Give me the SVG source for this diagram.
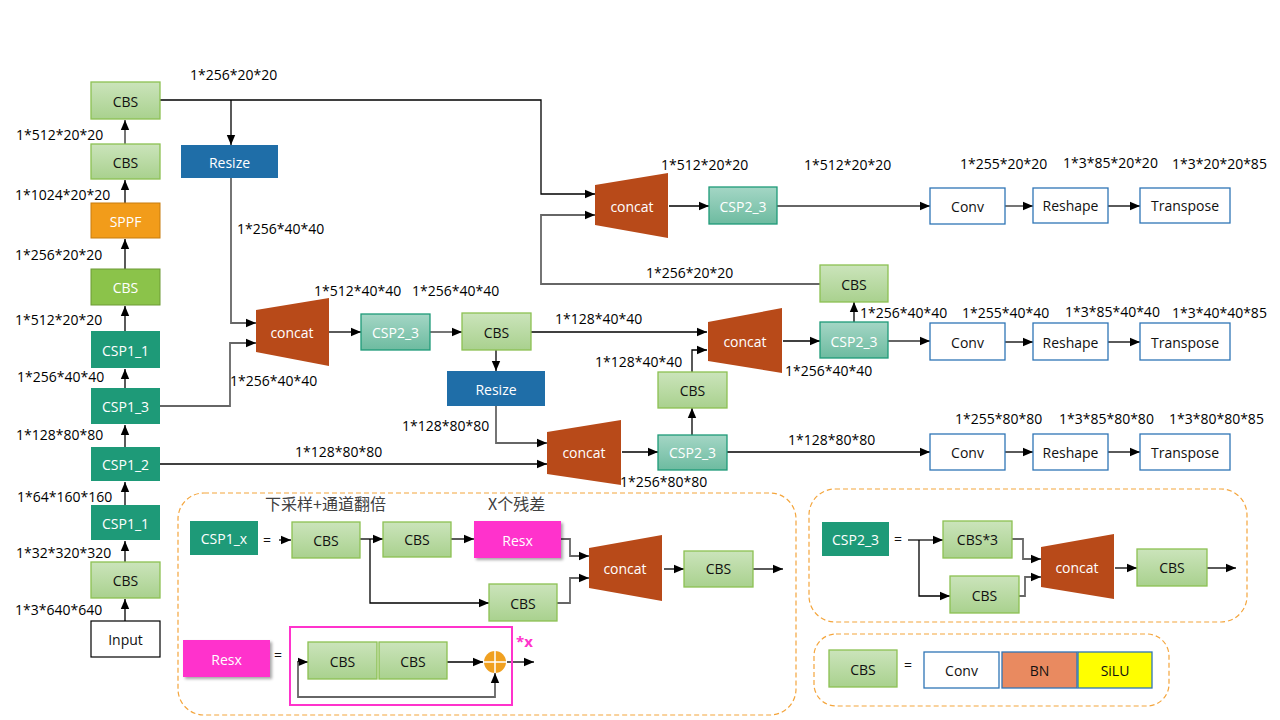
<svg xmlns="http://www.w3.org/2000/svg" width="1280" height="720" viewBox="0 0 1280 720">
<defs>
<linearGradient id="gCbs" x1="0" y1="0" x2="0" y2="1"><stop offset="0" stop-color="#cbe4bb"/><stop offset="1" stop-color="#a9d18e"/></linearGradient>
<linearGradient id="gCsp2" x1="0" y1="0" x2="0" y2="1"><stop offset="0" stop-color="#a4d6c5"/><stop offset="1" stop-color="#6dbba0"/></linearGradient>
<marker id="ah" markerUnits="userSpaceOnUse" markerWidth="10" markerHeight="10" refX="10" refY="5" orient="auto"><path d="M0,0.8 L10,5 L0,9.2 z" fill="#000"/></marker>
<filter id="sh" x="-10%" y="-10%" width="130%" height="140%"><feDropShadow dx="2" dy="2" stdDeviation="1.5" flood-color="#000" flood-opacity="0.35"/></filter>
</defs>
<style>
text{font-family:"Open Sans","Noto Sans",sans-serif;}
.lbl{font-size:14px;fill:#000;}
.t{font-size:14px;text-anchor:middle;dominant-baseline:central;fill:#111;}
.tw{font-size:14px;text-anchor:middle;dominant-baseline:central;fill:#fff;}
.cbs{fill:url(#gCbs);stroke:#8cc152;stroke-width:1.3;}
.cbsg{fill:#8bc34a;stroke:#6c9a35;stroke-width:1;}
.sppf{fill:#f29c1a;stroke:#c77c0e;stroke-width:1;}
.csp1{fill:#1e9a78;}
.csp2{fill:url(#gCsp2);stroke:#1e9a78;stroke-width:1.3;}
.rsz{fill:#1f6ea8;}
.cat{fill:#b84a19;}
.out{fill:#fff;stroke:#2e75b6;stroke-width:1.3;}
.inp{fill:#fff;stroke:#000;stroke-width:1.2;}
.resx{fill:#ff33cc;}
.dash{fill:none;stroke:#f4a53c;stroke-width:1.2;stroke-dasharray:5 3;}
.c{fill:none;stroke:#000;stroke-width:1.3;}
.cg{fill:none;stroke:#666;stroke-width:1.8;}
.a{marker-end:url(#ah);}
.cn{font-family:"Noto Sans CJK SC","Noto Sans",sans-serif;font-size:16px;fill:#404040;}
</style>

<g id="connectors">
<path class="c a" d="M125 621V599"/>
<path class="c a" d="M125 562V541"/>
<path class="c a" d="M125 505V482"/>
<path class="c a" d="M125 447V425"/>
<path class="c a" d="M125 388V369"/>
<path class="c a" d="M125 331V306"/>
<path class="c a" d="M125 269V239"/>
<path class="c a" d="M125 203V180"/>
<path class="cg a" d="M125 144V120"/>
<path class="c a" d="M160 100H541V194H595"/>
<path class="c a" d="M231 100V145"/>
<path class="cg a" d="M231 178V323H256"/>
<path class="cg a" d="M160 406H230V343H256"/>
<path class="c a" d="M329 332H361"/>
<path class="cg a" d="M430 332H462"/>
<path class="c a" d="M531 332H707"/>
<path class="c a" d="M496 350V371"/>
<path class="cg a" d="M496 406V443H547"/>
<path class="c a" d="M160 464H547"/>
<path class="c a" d="M622 452H658"/>
<path class="c a" d="M727 452H930"/>
<path class="c a" d="M692 435V408"/>
<path class="c a" d="M692 372V350H707"/>
<path class="c a" d="M783 341H820"/>
<path class="cg a" d="M888 341H930"/>
<path class="c a" d="M854 322V302"/>
<path class="cg a" d="M820 284H541V215H595"/>
<path class="c a" d="M669 206H709"/>
<path class="cg a" d="M777 206H930"/>
<path class="cg a" d="M1005 206H1033"/>
<path class="c a" d="M1108 206H1140"/>
<path class="c a" d="M1005 342H1033"/>
<path class="c a" d="M1108 342H1140"/>
<path class="c a" d="M1005 452H1033"/>
<path class="c a" d="M1108 452H1140"/>
<path class="c a" d="M279 540H291"/>
<path class="c a" d="M360 539H383"/>
<path class="c a" d="M370 539V603H489"/>
<path class="c a" d="M451 539H474"/>
<path class="cg a" d="M561 539H570V556H589"/>
<path class="cg a" d="M557 603H570V578H589"/>
<path class="c a" d="M664 569H684"/>
<path class="c a" d="M753 569H783"/>
<path class="c a" d="M297 662H308"/>
<path class="c a" d="M447 662H483"/>
<path class="c a" d="M507 662H534"/>
<path class="cg a" d="M298 662V697H495V673"/>
<path class="cg a" d="M908 540H943"/>
<path class="c a" d="M919 540V596H950"/>
<path class="cg a" d="M1012 539H1023V559H1041"/>
<path class="cg a" d="M1019 596H1025V577H1041"/>
<path class="c a" d="M1115 568H1137"/>
<path class="c a" d="M1207 568H1236"/>
</g>

<g id="labels">
<text class="lbl" x="190" y="80">1*256*20*20</text>
<text class="lbl" x="16" y="140">1*512*20*20</text>
<text class="lbl" x="15" y="200">1*1024*20*20</text>
<text class="lbl" x="15" y="260">1*256*20*20</text>
<text class="lbl" x="15" y="325">1*512*20*20</text>
<text class="lbl" x="17" y="382">1*256*40*40</text>
<text class="lbl" x="16" y="440">1*128*80*80</text>
<text class="lbl" x="17" y="502">1*64*160*160</text>
<text class="lbl" x="16" y="558">1*32*320*320</text>
<text class="lbl" x="15" y="615">1*3*640*640</text>
<text class="lbl" x="237" y="234">1*256*40*40</text>
<text class="lbl" x="230" y="386">1*256*40*40</text>
<text class="lbl" x="314" y="296">1*512*40*40</text>
<text class="lbl" x="412" y="296">1*256*40*40</text>
<text class="lbl" x="555" y="324">1*128*40*40</text>
<text class="lbl" x="595" y="367">1*128*40*40</text>
<text class="lbl" x="402" y="431">1*128*80*80</text>
<text class="lbl" x="295" y="457">1*128*80*80</text>
<text class="lbl" x="620" y="487">1*256*80*80</text>
<text class="lbl" x="788" y="445">1*128*80*80</text>
<text class="lbl" x="785" y="376">1*256*40*40</text>
<text class="lbl" x="860" y="318">1*256*40*40</text>
<text class="lbl" x="962" y="318">1*255*40*40</text>
<text class="lbl" x="1065" y="317">1*3*85*40*40</text>
<text class="lbl" x="1172" y="318">1*3*40*40*85</text>
<text class="lbl" x="646" y="278">1*256*20*20</text>
<text class="lbl" x="661" y="170">1*512*20*20</text>
<text class="lbl" x="804" y="170">1*512*20*20</text>
<text class="lbl" x="960" y="169">1*255*20*20</text>
<text class="lbl" x="1063" y="168">1*3*85*20*20</text>
<text class="lbl" x="1172" y="169">1*3*20*20*85</text>
<text class="lbl" x="955" y="424">1*255*80*80</text>
<text class="lbl" x="1059" y="424">1*3*85*80*80</text>
<text class="lbl" x="1169" y="424">1*3*80*80*85</text>
</g>

<g id="cbs_top"><rect class="cbs" x="91" y="82" width="69" height="37"/><text class="t" x="125.5" y="101">CBS</text></g>
<g id="cbs_2"><rect class="cbs" x="91" y="144" width="69" height="35"/><text class="t" x="125.5" y="162">CBS</text></g>
<g id="sppf"><rect class="sppf" x="91" y="203" width="69" height="35"/><text class="tw" x="125.5" y="221">SPPF</text></g>
<g id="cbs_3"><rect class="cbsg" x="91" y="269" width="69" height="36"/><text class="tw" x="125.5" y="287">CBS</text></g>
<g id="csp1_1a"><rect class="csp1" x="91" y="331" width="69" height="37"/><text class="tw" x="125.5" y="350">CSP1_1</text></g>
<g id="csp1_3"><rect class="csp1" x="91" y="388" width="69" height="36"/><text class="tw" x="125.5" y="406">CSP1_3</text></g>
<g id="csp1_2"><rect class="csp1" x="91" y="447" width="69" height="34"/><text class="tw" x="125.5" y="464">CSP1_2</text></g>
<g id="csp1_1b"><rect class="csp1" x="91" y="505" width="69" height="35"/><text class="tw" x="125.5" y="523">CSP1_1</text></g>
<g id="cbs_in"><rect class="cbs" x="91" y="562" width="69" height="36"/><text class="t" x="125.5" y="580">CBS</text></g>
<g id="input"><rect class="inp" x="91" y="621" width="69" height="36"/><text class="t" x="125.5" y="639">Input</text></g>

<g id="resize1"><rect class="rsz" x="181" y="145" width="97" height="33"/><text class="tw" x="229.5" y="162">Resize</text></g>
<g id="concat1"><polygon class="cat" points="256,310 329,298 329,366 256,352"/><text class="tw" x="292" y="332">concat</text></g>
<g id="csp2_a"><rect class="csp2" x="361" y="314" width="69" height="36"/><text class="tw" x="395.5" y="332">CSP2_3</text></g>
<g id="cbs_mid"><rect class="cbs" x="462" y="313" width="69" height="37"/><text class="t" x="496.5" y="332">CBS</text></g>
<g id="resize2"><rect class="rsz" x="447" y="371" width="98" height="35"/><text class="tw" x="496" y="389">Resize</text></g>
<g id="concat3"><polygon class="cat" points="547,432 621,420 621,485 547,474"/><text class="tw" x="584" y="452">concat</text></g>
<g id="csp2_b"><rect class="csp2" x="658" y="435" width="69" height="35"/><text class="tw" x="692.5" y="452">CSP2_3</text></g>
<g id="cbs_up"><rect class="cbs" x="658" y="372" width="69" height="36"/><text class="t" x="692.5" y="390">CBS</text></g>
<g id="concat2"><polygon class="cat" points="708,322 782,308 782,373 708,361"/><text class="tw" x="745" y="341">concat</text></g>
<g id="csp2_c"><rect class="csp2" x="820" y="322" width="68" height="36"/><text class="tw" x="854" y="341">CSP2_3</text></g>
<g id="cbs_r"><rect class="cbs" x="820" y="265" width="68" height="37"/><text class="t" x="854" y="284">CBS</text></g>
<g id="concat_top"><polygon class="cat" points="595,185 668,173 668,238 595,225"/><text class="tw" x="632" y="206">concat</text></g>
<g id="csp2_d"><rect class="csp2" x="709" y="187" width="68" height="37"/><text class="tw" x="743" y="206">CSP2_3</text></g>

<g id="conv1"><rect class="out" x="930" y="188" width="75" height="36"/><text class="t" x="967.5" y="206">Conv</text></g>
<g id="reshape1"><rect class="out" x="1033" y="188" width="75" height="35"/><text class="t" x="1070.5" y="205">Reshape</text></g>
<g id="transpose1"><rect class="out" x="1140" y="188" width="90" height="35"/><text class="t" x="1185" y="205">Transpose</text></g>
<g id="conv2"><rect class="out" x="930" y="323" width="75" height="37"/><text class="t" x="967.5" y="342">Conv</text></g>
<g id="reshape2"><rect class="out" x="1033" y="323" width="75" height="37"/><text class="t" x="1070.5" y="342">Reshape</text></g>
<g id="transpose2"><rect class="out" x="1140" y="323" width="90" height="37"/><text class="t" x="1185" y="342">Transpose</text></g>
<g id="conv3"><rect class="out" x="930" y="434" width="75" height="36"/><text class="t" x="967.5" y="452">Conv</text></g>
<g id="reshape3"><rect class="out" x="1033" y="434" width="75" height="36"/><text class="t" x="1070.5" y="452">Reshape</text></g>
<g id="transpose3"><rect class="out" x="1140" y="434" width="90" height="36"/><text class="t" x="1185" y="452">Transpose</text></g>

<g id="legend_csp1">
<rect class="dash" x="178" y="493" width="618" height="222" rx="26"/>
<text class="cn" x="265" y="510">下采样+通道翻倍</text>
<text class="cn" x="488" y="510">X个残差</text>
<rect class="csp1" x="190" y="521" width="68" height="34"/><text class="tw" x="224" y="538">CSP1_x</text>
<text class="t" x="267" y="539">=</text>
<rect class="cbs" x="292" y="522" width="68" height="36"/><text class="t" x="326" y="540">CBS</text>
<rect class="cbs" x="383" y="522" width="68" height="35"/><text class="t" x="417" y="539">CBS</text>
<rect class="resx" x="474" y="521" width="87" height="37" filter="url(#sh)"/><text class="tw" x="517.5" y="540">Resx</text>
<rect class="cbs" x="489" y="584" width="68" height="37"/><text class="t" x="523" y="603">CBS</text>
<polygon class="cat" points="589,548 662,535 662,601 589,588"/><text class="tw" x="625" y="568">concat</text>
<rect class="cbs" x="684" y="551" width="69" height="36"/><text class="t" x="718.5" y="568">CBS</text>
</g>

<g id="legend_resx">
<rect class="resx" x="183" y="640" width="87" height="37" filter="url(#sh)"/><text class="tw" x="226.5" y="659">Resx</text>
<text class="t" x="278" y="654">=</text>
<rect x="290" y="627" width="222" height="78" fill="none" stroke="#ff33cc" stroke-width="2"/>
<rect class="cbs" x="308" y="642" width="69" height="37"/><text class="t" x="342.5" y="661">CBS</text>
<rect class="cbs" x="379" y="642" width="68" height="37"/><text class="t" x="413" y="661">CBS</text>
<circle cx="495" cy="662" r="11" fill="#f0a020"/>
<path d="M484 662H506M495 651V673" stroke="#fff" stroke-width="1.5"/>
<text x="516" y="647" font-size="15" font-weight="bold" fill="#ff33cc">*x</text>
</g>

<g id="legend_csp2">
<rect class="dash" x="809" y="489" width="438" height="133" rx="26"/>
<rect class="csp1" x="822" y="522" width="67" height="34"/><text class="tw" x="855.5" y="539">CSP2_3</text>
<text class="t" x="898" y="538">=</text>
<rect class="cbs" x="943" y="521" width="69" height="37"/><text class="t" x="977.5" y="539">CBS*3</text>
<rect class="cbs" x="950" y="576" width="69" height="37"/><text class="t" x="984.5" y="595">CBS</text>
<polygon class="cat" points="1041,547 1114,534 1114,599 1041,587"/><text class="tw" x="1077" y="567">concat</text>
<rect class="cbs" x="1137" y="549" width="70" height="37"/><text class="t" x="1172" y="567">CBS</text>
</g>

<g id="legend_cbs">
<rect class="dash" x="814" y="634" width="355" height="72" rx="22"/>
<rect class="cbs" x="829" y="650" width="68" height="37"/><text class="t" x="863" y="669">CBS</text>
<text class="t" x="908" y="664">=</text>
<rect class="out" x="924" y="652" width="75" height="36"/><text class="t" x="961.5" y="670">Conv</text>
<rect x="1002" y="652" width="75" height="36" fill="#e98a60" stroke="#2e75b6" stroke-width="1.3"/><text class="t" x="1039.5" y="670">BN</text>
<rect x="1078" y="652" width="74" height="36" fill="#ffff00" stroke="#2e75b6" stroke-width="1.3"/><text class="t" x="1115" y="670">SiLU</text>
</g>
</svg>
